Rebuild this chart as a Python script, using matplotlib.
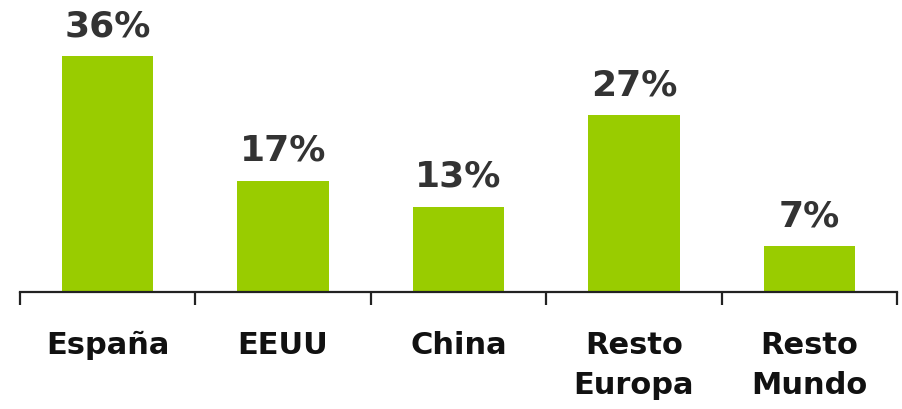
import matplotlib
matplotlib.use("Agg")
import matplotlib.pyplot as plt
import numpy as np

categories = ["España", "EEUU", "China", "Resto\nEuropa", "Resto\nMundo"]
values = [36, 17, 13, 27, 7]
value_labels = ["36%", "17%", "13%", "27%", "7%"]

plt.rcParams['font.family'] = ['DejaVu Sans']

fig = plt.figure(figsize=(9.02, 4.09), dpi=100)
W, H = 902, 409
left, right, base = 20, 897, 292
ax = fig.add_axes([left / W, (H - base) / H, (right - left) / W, 262 / H])

x = np.arange(len(categories))
ax.bar(x, values, width=0.52, color="#99CC00")
ax.set_xlim(-0.5, len(categories) - 0.5)
ax.set_ylim(0, 40)

for xi, v, lab in zip(x, values, value_labels):
    ax.annotate(lab, (xi, v), xytext=(0, 14.5), textcoords="offset points",
                ha="center", va="baseline", fontsize=26, fontweight="bold",
                color="#333333", annotation_clip=False)

for s in ["top", "right", "left"]:
    ax.spines[s].set_visible(False)
ax.spines["bottom"].set_color("#222222")
ax.spines["bottom"].set_linewidth(1.6)
ax.set_yticks([])
ax.set_xticks(x)
ax.set_xticklabels(categories, fontsize=22, fontweight="bold", color="#111111",
                   linespacing=1.5)
ax.tick_params(axis="x", which="major", length=0, pad=28)
ax.set_xticks(np.arange(-0.5, len(categories)), minor=True)
ax.tick_params(axis="x", which="minor", length=9, width=1.6, color="#222222",
               direction="out")

fig.savefig("out.png", dpi=100)
